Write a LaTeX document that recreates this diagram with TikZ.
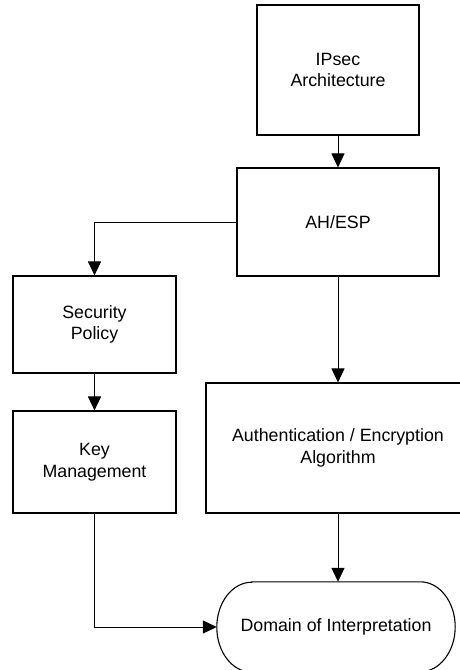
\documentclass[tikz,border=0pt]{standalone}
\usepackage{fontspec}
\setmainfont{Liberation Sans}
\usetikzlibrary{arrows.meta}
\begin{document}
\begin{tikzpicture}[x=1pt,y=-1pt,
  box/.style={draw, line width=1.1pt, align=center, inner sep=0pt,
    font=\fontsize{17.8}{21.5}\selectfont},
  conn/.style={draw, line width=1pt, -{Triangle[width=13pt,length=14pt]}}]
\useasboundingbox (0,0) rectangle (459,670);

% processing blocks
\node[box, minimum width=162pt, minimum height=130pt] (ipsec) at (338,70) {IPsec\\Architecture};
\node[box, minimum width=202pt, minimum height=108pt] (ahesp) at (338,222) {AH/ESP};
\node[box, minimum width=163pt, minimum height=97pt] (secpol) at (94.5,324.5) {Security\\Policy};
\node[box, minimum width=163pt, minimum height=102pt] (keymgmt) at (94.5,462) {Key\\Management};
\node[box, minimum width=264pt, minimum height=130pt] (auth) at (338,448) {Authentication / Encryption\\Algorithm};

% terminal with elliptic ends
\node[minimum width=238pt, minimum height=90pt, inner sep=0pt,
  font=\fontsize{17.8}{21.5}\selectfont] (doi) at (336,627) {Domain of Interpretation};
\draw[line width=1.1pt] ([xshift=35pt]doi.north west) -- ([xshift=-35pt]doi.north east)
  arc[start angle=90, end angle=-90, x radius=35pt, y radius=45pt]
  -- ([xshift=35pt]doi.south west)
  arc[start angle=270, end angle=90, x radius=35pt, y radius=45pt] -- cycle;

% connectors
\draw[conn] (ipsec) -- (ahesp);
\draw[conn] (ahesp.west) -| (secpol.north);
\draw[conn] (secpol) -- (keymgmt);
\draw[conn] (ahesp) -- (auth);
\draw[conn] (auth.south) -- (auth.south |- doi.north);
\draw[conn] (keymgmt.south) |- (doi.west);
\end{tikzpicture}
\end{document}
